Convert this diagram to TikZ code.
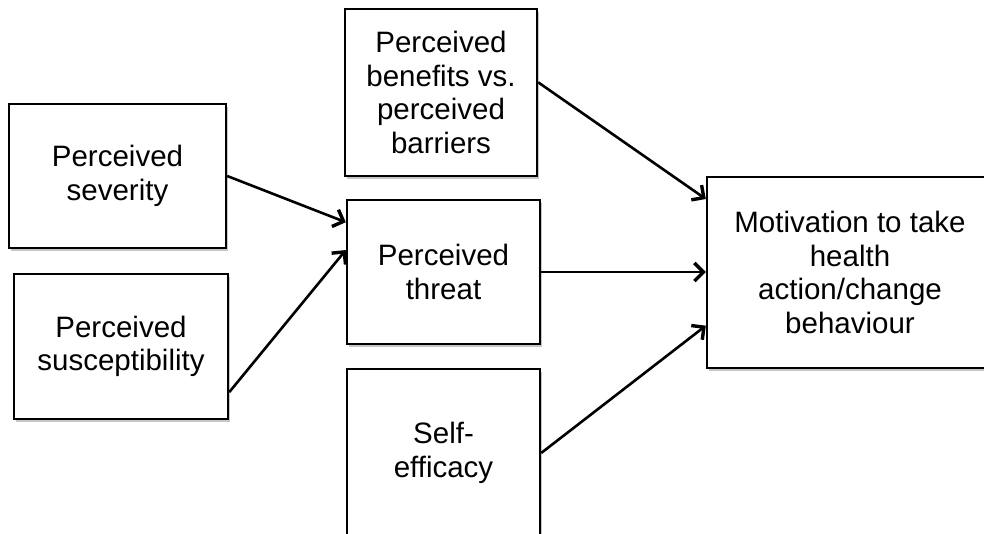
\documentclass[tikz,border=0pt]{standalone}
\usepackage{fontspec}
\setmainfont{Liberation Sans}
\usetikzlibrary{arrows.meta,shadows,calc}
\begin{document}
\begin{tikzpicture}[x=1pt,y=-1pt,
  box/.style={draw=black, line width=2.4pt, fill=white, inner sep=0pt,
    align=center, font=\fontsize{29.5}{33.5}\selectfont,
    drop shadow={shadow xshift=1.5pt, shadow yshift=-3pt, opacity=0.45, fill=gray}},
  link/.style={line width=2.6pt, -{Straight Barb[length=9pt,width=18pt,line width=3.4pt]}}]
\useasboundingbox (0,0) rectangle (984,533);
\clip (0,0) rectangle (984,533);

% factors
\node[box, minimum width=217pt, minimum height=144pt] (sev) at (117.5,176) {Perceived\\severity};
\node[box, minimum width=214pt, minimum height=145pt] (sus) at (121,346.5) {Perceived\\susceptibility};
\node[box, minimum width=192pt, minimum height=167pt] (ben) at (441,92.5) {Perceived\\benefits vs.\\perceived\\barriers};
\node[box, minimum width=193pt, minimum height=144pt] (thr) at (443.5,272) {Perceived\\threat};
\node[box, minimum width=193pt, minimum height=168pt] (self) at (443.5,453) {Self-\\efficacy};
\node[box, minimum width=286pt, minimum height=191pt] (mot) at (850,272.5) {Motivation to take\\health\\action/change\\behaviour};

% connectors
\draw[link] (sev.east) -- ($(thr.north west)!0.16!(thr.south west)$);
\draw[link] ($(sus.south east)!0.19!(sus.north east)$) -- ($(thr.north west)!0.35!(thr.south west)$);
\draw[link] ($(ben.south east)!0.56!(ben.north east)$) -- ($(mot.north west)!0.12!(mot.south west)$);
\draw[link] (thr.east) -- (thr.east -| mot.west);
\draw[link] (self.east) -- ($(mot.north west)!0.775!(mot.south west)$);
\end{tikzpicture}
\end{document}
